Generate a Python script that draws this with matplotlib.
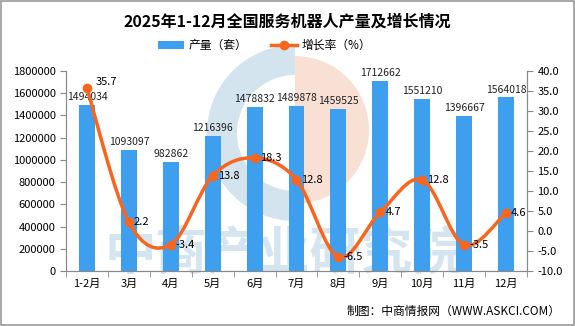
import matplotlib
matplotlib.use("Agg")
import matplotlib.pyplot as plt
from matplotlib.path import Path
from matplotlib.patches import PathPatch, Wedge, Rectangle
import numpy as np

plt.rcParams['font.family'] = ['Noto Sans CJK SC', 'DejaVu Sans']

# data
months = ["1-2月", "3月", "4月", "5月", "6月", "7月", "8月", "9月", "10月", "11月", "12月"]
output = [1494034, 1093097, 982862, 1216396, 1478832, 1489878, 1459525, 1712662, 1551210, 1396667, 1564018]
growth = [35.7, 2.2, -3.4, 13.8, 18.3, 12.8, -6.5, 4.7, 12.8, -3.5, 4.6]

bar_col = "#3F9FEF"
line_col = "#F8651E"
axis_col = "#898989"

fig = plt.figure(figsize=(5.75, 3.26), dpi=100)
fig.patches.append(Rectangle((0.001, 0.002), 0.997, 0.995, transform=fig.transFigure,
                             fill=False, edgecolor="#9a9a9a", linewidth=1.2))

ax = fig.add_axes([0.1148, 0.1687, 0.8017, 0.6133])
ax2 = ax.twinx()

x = np.arange(len(months))

# watermark logo + text (inches, so the circle stays round)
tr = fig.dpi_scale_trans
fig.patches.append(Wedge((2.95, 1.93), 0.88, 90, 270, width=0.3, transform=tr,
                         facecolor="#d3e4ee", edgecolor="none", zorder=0))
fig.patches.append(Wedge((2.95, 1.96), 0.74, -90, 90, transform=tr,
                         facecolor="#f9e0d5", edgecolor="none", zorder=0))
fig.text(0.495, 0.225, "中商产业研究院", ha="center", va="center", fontsize=37,
         color="#d5e5f0", fontweight="bold", zorder=0)

ax.bar(x, output, width=0.38, color=bar_col, zorder=2, label="产量（套）")
for xi, v in zip(x, output):
    ax.text(xi, v + 25000, str(v), ha="center", va="bottom", fontsize=7.5, color="#222222")

# smooth line through points with cubic bezier segments
verts = [(x[0], growth[0])]
codes = [Path.MOVETO]
n = len(x)
for i in range(n - 1):
    p0 = np.array([x[max(i - 1, 0)], growth[max(i - 1, 0)]])
    p1 = np.array([x[i], growth[i]])
    p2 = np.array([x[i + 1], growth[i + 1]])
    p3 = np.array([x[min(i + 2, n - 1)], growth[min(i + 2, n - 1)]])
    c1 = p1 + (p2 - p0) / 6.0
    c2 = p2 - (p3 - p1) / 6.0
    verts += [tuple(c1), tuple(c2), tuple(p2)]
    codes += [Path.CURVE4, Path.CURVE4, Path.CURVE4]
ax2.add_patch(PathPatch(Path(verts, codes), facecolor="none", edgecolor=line_col,
                        linewidth=2.5, zorder=3))
ax2.plot(x, growth, linestyle="none", marker="o", markersize=6, color=line_col, zorder=4)
ax2.plot([], [], color=line_col, linewidth=2.5, marker="o", markersize=6, label="增长率（%）")

for i, (xi, g) in enumerate(zip(x, growth)):
    if i == 0:
        ax2.text(xi + 0.2, g + 0.3, "%.1f" % g, ha="left", va="bottom", fontsize=8)
    else:
        ax2.text(xi + 0.12, g, "%.1f" % g, ha="left", va="center", fontsize=8)

ax.set_xlim(-0.5, n - 0.5)
ax.set_ylim(0, 1800000)
ax.set_yticks(np.arange(0, 1800001, 200000))
ax.set_yticklabels([str(v) for v in range(0, 1800001, 200000)])
ax2.set_ylim(-10, 40)
ax2.set_yticks(np.arange(-10, 41, 5))
ax2.set_yticklabels(["%.1f" % v for v in np.arange(-10, 41, 5)])

ax.set_xticks(x)
ax.set_xticklabels(months)
ax.set_xticks(np.arange(-0.5, n, 1), minor=True)
ax.tick_params(axis="x", which="major", length=0, labelsize=8, pad=6)
ax.tick_params(axis="x", which="minor", length=4, color=axis_col, direction="out")
ax.tick_params(axis="y", length=4, color=axis_col, labelsize=8)
ax2.tick_params(axis="y", length=4, color=axis_col, labelsize=8)

for a in (ax, ax2):
    a.spines["top"].set_visible(False)
    for s in ("left", "right", "bottom"):
        a.spines[s].set_color(axis_col)
ax.patch.set_visible(False)
ax.set_zorder(1)
ax2.set_zorder(2)

fig.text(0.5, 0.935, "2025年1-12月全国服务机器人产量及增长情况", ha="center", va="center",
         fontsize=11.5, fontweight="bold")

h1, l1 = ax.get_legend_handles_labels()
h2, l2 = ax2.get_legend_handles_labels()
fig.legend(h1 + h2, l1 + l2, loc="center", bbox_to_anchor=(0.46, 0.86), ncol=2,
           frameon=False, fontsize=8.5, handlelength=2.2, handletextpad=0.4,
           columnspacing=2.0)

fig.text(0.975, 0.045, "制图：中商情报网（WWW.ASKCI.COM）", ha="right", va="center", fontsize=8.5)

fig.savefig("out.png", dpi=100)
